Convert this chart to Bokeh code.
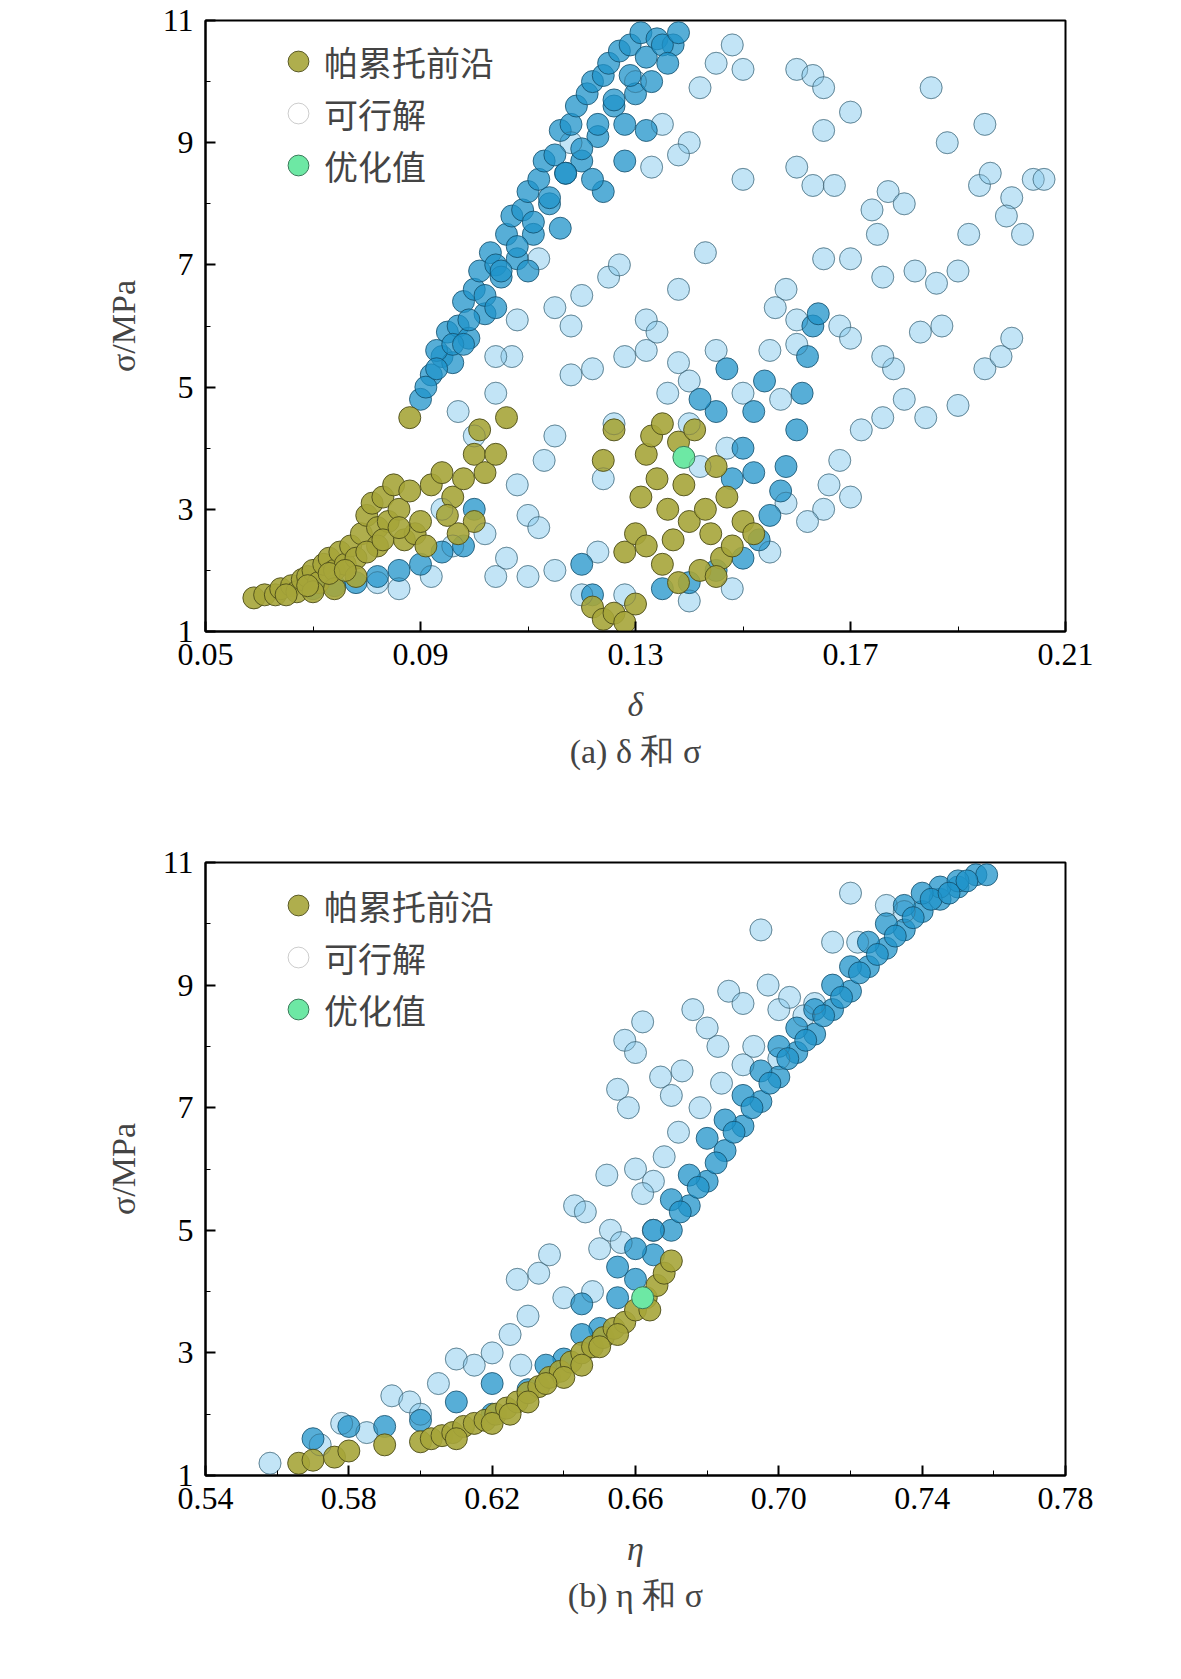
from bokeh.plotting import figure
from bokeh.layouts import column
from bokeh.models import FixedTicker, Title, Legend, LegendItem
from bokeh.embed import file_html
from bokeh.resources import INLINE

# ---------- panel (a): delta vs sigma ----------
a_par_x = [0.059,0.061,0.063,0.064,0.066,0.067,0.068,0.069,0.07,0.071,0.072,0.073,0.074,0.075,0.076,0.077,0.078,0.079,0.08,0.081,0.082,0.083,0.084,0.085,0.086,0.087,0.088,0.089,0.09,0.092,0.094,0.096,0.098,0.1,0.101,0.102,0.104,0.106,0.1,0.097,0.082,0.078,0.074,0.07,
           0.122,0.124,0.126,0.128,0.13,0.128,0.13,0.131,0.132,0.133,0.134,0.135,0.136,0.137,0.138,0.139,0.14,0.141,0.142,0.143,0.144,0.145,0.146,0.147,0.148,0.15,0.152,0.124,0.126,0.135,0.138,0.145,0.132,
           0.065,0.069,0.073,0.076,0.08,0.083,0.086,0.088,0.091,0.095]
a_par_y = [1.55,1.6,1.6,1.7,1.75,1.65,1.85,1.9,2.0,1.8,2.1,2.2,2.0,2.3,2.1,2.4,2.2,2.6,2.9,3.1,2.7,3.2,2.8,3.4,3.0,2.5,4.5,2.6,2.8,3.4,3.6,3.2,3.5,3.9,4.3,3.6,3.9,4.5,2.8,2.6,2.4,1.9,1.7,1.65,
           1.4,1.2,1.3,1.15,1.45,2.3,2.6,3.2,3.9,4.2,3.5,4.4,3.0,2.5,4.1,3.4,2.8,4.3,2.0,3.0,2.6,3.7,2.2,3.2,2.4,2.8,2.6,3.8,4.3,2.1,1.8,1.9,2.4,
           1.6,1.75,1.95,2.0,2.3,2.5,2.7,3.3,2.4,2.9]
a_opt_x = [0.139]
a_opt_y = [3.85]
a_dark_x = [0.09,0.092,0.094,0.095,0.097,0.098,0.1,0.101,0.103,0.104,0.106,0.107,0.109,0.11,0.112,0.113,0.115,0.116,0.118,0.119,0.121,0.122,0.124,0.125,0.127,0.129,0.131,0.134,0.137,0.126,0.12,0.114,0.108,0.102,0.096,0.13,0.132,0.128,0.124,0.105,0.111,0.117,0.123,0.099,0.093,
            0.07,0.074,0.078,0.082,0.086,0.09,0.094,0.098,0.1,0.12,0.122,0.135,0.14,0.145,0.15,0.153,0.155,0.157,0.158,0.16,0.161,0.162,0.163,0.164,0.148,0.15,0.152,0.154,0.145,0.147,0.142,0.152,
            0.091,0.093,0.096,0.099,0.102,0.105,0.108,0.111,0.114,0.117,0.12,0.123,0.126,0.129,0.132,0.135,0.138,0.133,0.136,0.128,0.122,0.116,0.11,0.104,0.098]
a_dark_y = [4.8,5.2,5.5,5.9,6.0,6.4,6.6,6.9,7.2,7.0,7.5,7.8,7.9,8.2,8.4,8.7,8.8,9.2,9.3,9.6,9.8,10.0,10.1,10.3,10.5,10.6,10.8,10.7,10.6,9.6,8.7,8.0,7.1,6.2,5.4,9.8,9.2,8.7,8.2,6.8,7.5,8.5,9.1,5.8,5.6,
            1.7,1.75,1.8,1.9,2.0,2.1,2.3,2.4,3.0,2.1,1.6,1.7,1.8,2.0,2.2,2.5,2.9,3.3,3.7,4.3,4.9,5.5,6.0,6.2,3.5,4.0,4.6,5.1,4.6,5.3,4.8,3.6,
            5.0,5.3,5.7,6.1,6.5,6.9,7.3,7.7,8.1,8.5,8.9,9.3,9.7,10.1,10.4,10.6,10.8,10.0,10.3,9.3,8.4,7.6,6.9,6.3,5.7]
a_light_x = [0.13,0.135,0.14,0.142,0.145,0.148,0.15,0.138,0.133,0.16,0.163,0.165,0.17,0.165,0.16,0.163,0.167,0.15,0.174,0.177,0.18,0.185,0.188,0.195,0.194,0.196,0.2,0.204,0.206,0.202,0.199,0.192,0.19,0.186,0.182,0.175,0.17,0.165,0.158,0.16,0.156,0.168,0.178,0.176,0.183,0.187,0.195,0.198,0.2,0.19,0.184,0.18,0.176,0.172,0.168,0.17,0.165,0.158,0.143,0.138,0.132,0.128,0.125,0.127,0.12,0.118,0.118,0.122,0.132,0.138,0.134,0.136,0.14,0.145,0.126,0.124,0.115,0.113,0.108,0.11,0.112,0.115,0.11,0.104,0.106,0.102,0.104,0.1,0.097,0.094,0.096,0.092,0.086,0.082,0.123,0.12,0.128,0.14,0.148,0.155,0.162,0.166,0.16,0.157,0.155,0.15,0.147,0.14,0.142,0.17,0.176,0.118,0.112,0.115,0.108,0.107,0.104]
a_light_y = [10.0,9.3,9.0,9.9,10.3,10.6,10.2,8.8,8.6,10.2,10.1,9.9,9.5,9.2,8.6,8.3,8.3,8.4,7.9,8.2,8.0,9.9,9.0,9.3,8.3,8.5,8.1,8.4,8.4,7.5,7.8,7.5,6.9,6.7,6.9,7.5,7.1,7.1,6.6,6.1,6.3,6.0,5.3,5.5,5.9,6.0,5.3,5.5,5.8,4.7,4.5,4.8,4.5,4.3,3.8,3.2,3.0,3.1,7.2,6.6,6.1,5.5,6.8,7.0,6.5,6.0,5.2,5.3,5.6,5.4,5.9,4.9,5.1,5.6,4.4,3.5,4.2,3.8,3.4,2.9,2.7,2.0,1.9,1.9,2.2,2.6,4.9,4.2,4.6,3.0,2.4,1.9,1.7,1.8,2.3,1.6,1.6,1.5,1.7,2.3,2.8,3.4,5.7,4.8,5.6,4.9,4.0,4.4,3.7,5.8,6.8,9.0,7.1,6.3,6.1,5.5,5.5]

# ---------- panel (b): eta vs sigma ----------
b_par_x = [0.566,0.57,0.576,0.58,0.59,0.6,0.603,0.606,0.609,0.612,0.615,0.618,0.621,0.624,0.627,0.63,0.633,0.636,0.639,0.642,0.645,0.648,0.651,0.654,0.657,0.66,0.663,0.666,0.668,0.67,0.61,0.62,0.63,0.64,0.65,0.635,0.625,0.645,0.655,0.664]
b_par_y = [1.2,1.25,1.3,1.4,1.5,1.55,1.6,1.65,1.7,1.8,1.85,1.9,2.0,2.1,2.2,2.35,2.45,2.6,2.7,2.85,3.0,3.1,3.25,3.4,3.5,3.7,3.9,4.1,4.3,4.5,1.6,1.85,2.2,2.6,3.1,2.5,2.0,2.8,3.3,3.7]
b_opt_x = [0.662]
b_opt_y = [3.9]
b_dark_x = [0.62,0.63,0.64,0.65,0.66,0.665,0.67,0.675,0.68,0.685,0.69,0.695,0.7,0.705,0.71,0.715,0.72,0.725,0.73,0.735,0.74,0.745,0.75,0.755,0.758,0.665,0.675,0.685,0.695,0.705,0.715,0.725,0.735,0.745,0.69,0.7,0.71,0.72,0.73,0.74,0.75,0.68,0.67,0.66,0.655,0.645,0.6,0.59,0.58,0.57,0.61,0.62,
            0.6725,0.6775,0.6825,0.6875,0.6925,0.6975,0.7025,0.7075,0.7125,0.7175,0.7225,0.7275,0.7325,0.7375,0.7425,0.7475,0.7525,0.635,0.645,0.655]
b_dark_y = [2.0,2.4,2.9,3.4,4.2,4.6,5.0,5.4,5.8,6.3,6.7,7.1,7.5,7.9,8.2,8.6,8.9,9.3,9.6,9.9,10.2,10.4,10.6,10.8,10.8,5.0,5.9,6.8,7.6,8.3,9.0,9.7,10.3,10.6,7.2,8.0,8.6,9.3,10.0,10.5,10.7,6.5,5.5,4.7,4.4,3.8,1.9,1.8,1.8,1.6,2.2,2.5,
            5.3,5.7,6.1,6.6,7.0,7.4,7.8,8.1,8.5,8.8,9.2,9.5,9.8,10.1,10.4,10.5,10.7,2.8,3.3,3.9]
b_light_x = [0.558,0.572,0.578,0.585,0.592,0.597,0.6,0.605,0.61,0.615,0.62,0.625,0.628,0.63,0.627,0.633,0.636,0.64,0.643,0.646,0.648,0.65,0.653,0.655,0.657,0.66,0.662,0.658,0.66,0.665,0.667,0.67,0.673,0.676,0.68,0.683,0.686,0.69,0.693,0.695,0.697,0.7,0.703,0.707,0.71,0.715,0.72,0.722,0.73,0.735,0.668,0.672,0.678,0.665,0.662,0.656,0.652,0.684,0.69,0.7]
b_light_y = [1.2,1.5,1.85,1.7,2.3,2.2,2.0,2.5,2.9,2.8,3.0,3.3,2.8,3.6,4.2,4.3,4.6,3.9,5.4,5.3,4.0,4.7,5.0,7.3,8.1,7.9,8.4,7.0,6.0,5.8,7.5,7.2,7.6,8.6,8.3,8.0,8.9,8.7,8.0,9.9,9.0,8.6,8.8,8.5,8.7,9.7,10.5,9.7,10.3,10.2,6.2,6.6,7.0,5.0,5.6,4.8,5.9,7.4,7.7,7.8]

SERIF = "Liberation Serif"

def make_panel(xr, xticks, xlabel, caption, par, opt, dark, light, height, top, bottom):
    p = figure(width=1165, height=height, x_range=xr, y_range=(1, 11),
               output_backend="svg", toolbar_location=None,
               min_border_left=205, min_border_right=100,
               min_border_top=top, min_border_bottom=bottom)
    p.grid.visible = False
    p.outline_line_color = "black"
    p.outline_line_width = 2
    step = xticks[1] - xticks[0]
    p.xaxis.ticker = FixedTicker(ticks=xticks, minor_ticks=[xticks[0] + step * i / 2 for i in range(0, 2 * len(xticks))])
    p.yaxis.ticker = FixedTicker(ticks=[1, 3, 5, 7, 9, 11], minor_ticks=list(range(1, 12)))
    for ax in (p.xaxis[0], p.yaxis[0]):
        ax.major_tick_in = 10
        ax.major_tick_out = 0
        ax.minor_tick_in = 5
        ax.minor_tick_out = 0
        ax.axis_line_width = 2
        ax.major_tick_line_width = 2
        ax.major_label_text_font = SERIF
        ax.major_label_text_font_size = "32px"
        ax.major_label_text_color = "black"
        ax.major_label_standoff = 12
        ax.axis_label_text_font = SERIF
        ax.axis_label_text_font_size = "34px"
        ax.axis_label_standoff = 18
    p.xaxis.major_label_overrides = {t: f"{t:.2f}" for t in xticks}
    p.xaxis.axis_label = xlabel
    p.xaxis.axis_label_text_font_style = "italic"
    p.yaxis.axis_label = "σ/MPa"
    p.yaxis.axis_label_text_font_style = "normal"

    p.scatter(light[0], light[1], size=22, fill_color="#8fcdee", fill_alpha=0.55,
              line_color="#2a6f90", line_alpha=0.6)
    p.scatter(dark[0], dark[1], size=22, fill_color="#1f93c9", fill_alpha=0.75,
              line_color="#134e6a", line_alpha=0.8)
    rp = p.scatter(par[0], par[1], size=22, fill_color="#a6a53a", fill_alpha=0.9,
                   line_color="#4d4d1a", line_alpha=0.9)
    ro = p.scatter(opt[0], opt[1], size=22, fill_color="#6de8a4", line_color="#3a7a5a")
    rf = p.scatter(light[0], light[1], size=22, fill_alpha=0, line_color="#555555", line_alpha=0.3)

    leg = Legend(items=[LegendItem(label="帕累托前沿", renderers=[rp]),
                        LegendItem(label="可行解", renderers=[rf]),
                        LegendItem(label="优化值", renderers=[ro])],
                 location=(65, 438))
    leg.background_fill_alpha = 0
    leg.border_line_alpha = 0
    leg.label_text_font = "Noto Sans CJK SC"
    leg.label_text_font_size = "34px"
    leg.spacing = -4
    leg.padding = 2
    leg.margin = 0
    leg.glyph_width = 52
    leg.glyph_height = 52
    leg.label_height = 40
    leg.label_standoff = 0
    p.add_layout(leg)

    p.add_layout(Title(text=caption, align="center", text_font=SERIF,
                       text_font_size="34px", text_font_style="normal"), "below")
    return p

pa = make_panel((0.05, 0.21), [0.05, 0.09, 0.13, 0.17, 0.21], "δ", "(a) δ 和 σ",
                (a_par_x, a_par_y), (a_opt_x, a_opt_y), (a_dark_x, a_dark_y), (a_light_x, a_light_y),
                840, 20, 209)
pb = make_panel((0.54, 0.78), [0.54, 0.58, 0.62, 0.66, 0.70, 0.74, 0.78], "η", "(b) η 和 σ",
                (b_par_x, b_par_y), (b_opt_x, b_opt_y), (b_dark_x, b_dark_y), (b_light_x, b_light_y),
                823, 22, 188)

layout = column(pa, pb, spacing=0)
open("out.html", "w").write(file_html(layout, INLINE))
